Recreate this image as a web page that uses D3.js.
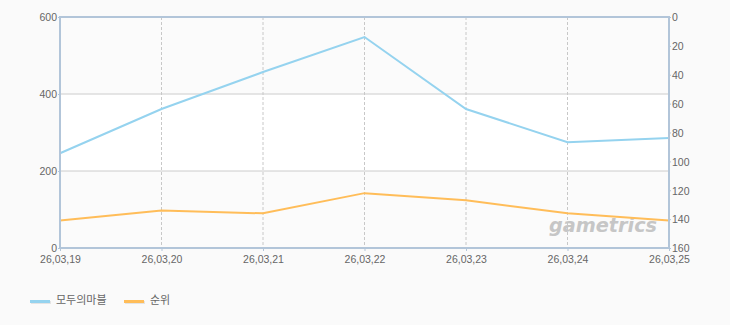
<!DOCTYPE html>
<html>
<head>
<meta charset="utf-8">
<script src="https://d3js.org/d3.v7.min.js"></script>
<style>
  body { margin: 0; background: #fafafa; }
  text { font-family: "Noto Sans CJK KR", "Liberation Sans", sans-serif; }
</style>
</head>
<body>
<div id="chart"></div>
<script>
const dates = ["26,03,19", "26,03,20", "26,03,21", "26,03,22", "26,03,23", "26,03,24", "26,03,25"];
const players = [246, 361, 457, 548, 361, 275, 286];   // 모두의마블 (left axis)
const ranks = [141, 134, 136, 122, 127, 136, 141];     // 순위 (right axis, reversed)
const leftTicks = [0, 200, 400, 600];
const rightTicks = [0, 20, 40, 60, 80, 100, 120, 140, 160];
const seriesNames = ["모두의마블", "순위"];

const width = 730, height = 325;
const m = {left: 60, right: 61, top: 17, bottom: 77};
const blue = "#95d3ef", orange = "#ffbd59";

const svg = d3.select("#chart").append("svg")
    .attr("width", width).attr("height", height);

const x = d3.scalePoint().domain(dates).range([m.left, width - m.right]);
const yL = d3.scaleLinear().domain([0, 600]).range([height - m.bottom, m.top]);
const yR = d3.scaleLinear().domain([0, 160]).range([m.top, height - m.bottom]);

// alternating bands
const bands = d3.pairs(leftTicks);
svg.append("g").selectAll("rect").data(bands).join("rect")
    .attr("x", m.left).attr("width", width - m.right - m.left)
    .attr("y", d => yL(d[1])).attr("height", d => yL(d[0]) - yL(d[1]))
    .attr("fill", (d, i) => i % 2 ? "#ffffff" : "#fbfbfb");

// horizontal grid
svg.append("g").selectAll("line").data(leftTicks.slice(1, -1)).join("line")
    .attr("x1", m.left).attr("x2", width - m.right)
    .attr("y1", d => yL(d)).attr("y2", d => yL(d))
    .attr("stroke", "#cccccc");

// vertical dashed grid
svg.append("g").selectAll("line").data(dates.slice(1, -1)).join("line")
    .attr("x1", d => x(d)).attr("x2", d => x(d))
    .attr("y1", m.top).attr("y2", height - m.bottom)
    .attr("stroke", "#c8c8c8").attr("stroke-dasharray", "3,2");

// watermark
svg.append("text")
    .attr("x", 549).attr("y", 232)
    .attr("textLength", 108).attr("lengthAdjust", "spacingAndGlyphs")
    .attr("font-size", 20).attr("font-style", "italic").attr("font-weight", "bold")
    .attr("fill", "#c6c6c6")
    .style("font-family", "'DejaVu Sans', sans-serif")
    .text("gametrics");

// lines
svg.append("path").datum(players)
    .attr("fill", "none").attr("stroke", blue).attr("stroke-width", 2)
    .attr("d", d3.line().x((d, i) => x(dates[i])).y(d => yL(d)));
svg.append("path").datum(ranks)
    .attr("fill", "none").attr("stroke", orange).attr("stroke-width", 2)
    .attr("d", d3.line().x((d, i) => x(dates[i])).y(d => yR(d)));

// frame
svg.append("rect")
    .attr("x", m.left).attr("y", m.top)
    .attr("width", width - m.right - m.left).attr("height", height - m.bottom - m.top)
    .attr("fill", "none").attr("stroke", "#b2c5d9").attr("stroke-width", 2);

// axes
const lAxis = svg.append("g").attr("transform", `translate(${m.left},0)`)
    .call(d3.axisLeft(yL).tickValues(leftTicks).tickSize(2).tickPadding(1));
const rAxis = svg.append("g").attr("transform", `translate(${width - m.right},0)`)
    .call(d3.axisRight(yR).tickValues(rightTicks).tickSize(2).tickPadding(1));
const bAxis = svg.append("g").attr("transform", `translate(0,${height - m.bottom})`)
    .call(d3.axisBottom(x).tickSize(3).tickPadding(5));
[lAxis, rAxis, bAxis].forEach(g => {
  g.select(".domain").remove();
  g.selectAll(".tick line").attr("stroke", "#b2c5d9");
  g.selectAll("text").attr("fill", "#666").attr("font-size", 10.5)
      .style("font-family", "'Liberation Sans', sans-serif");
});
lAxis.selectAll("text").attr("dy", "0.36em");
rAxis.selectAll("text").attr("dy", "0.36em");

// legend
const legend = svg.append("g").attr("transform", "translate(30,300)");
const items = legend.selectAll("g").data(seriesNames).join("g")
    .attr("transform", (d, i) => `translate(${i * 94},0)`);
items.append("line")
    .attr("x1", 1).attr("x2", 21).attr("y1", 2.5).attr("y2", 2.5)
    .attr("stroke", "#e4e4e4").attr("stroke-width", 3);
items.append("line")
    .attr("x1", 0).attr("x2", 20).attr("y1", 1.5).attr("y2", 1.5)
    .attr("stroke", (d, i) => i ? orange : blue).attr("stroke-width", 3);
items.append("text")
    .attr("x", 26).attr("y", 0).attr("dy", "0.36em")
    .attr("font-size", 11).attr("fill", "#666")
    .text(d => d);
</script>
</body>
</html>
